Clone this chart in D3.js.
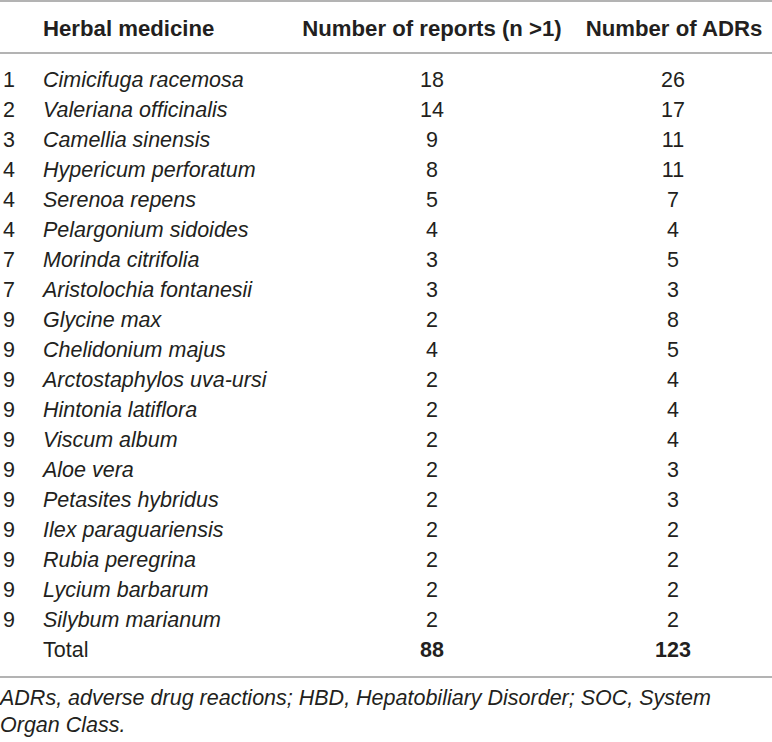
<!DOCTYPE html>
<html>
<head>
<meta charset="utf-8">
<script src="https://cdn.jsdelivr.net/npm/d3@7"></script>
<style>
  body { margin: 0; background: #fff; }
  svg { display: block; }
</style>
</head>
<body>
<div id="table"></div>
<script>
// table data
const headers = ["Herbal medicine", "Number of reports (n >1)", "Number of ADRs"];
const ranks = ["1", "2", "3", "4", "4", "4", "7", "7", "9", "9", "9", "9", "9", "9", "9", "9", "9", "9", "9"];
const herbs = ["Cimicifuga racemosa", "Valeriana officinalis", "Camellia sinensis", "Hypericum perforatum",
    "Serenoa repens", "Pelargonium sidoides", "Morinda citrifolia", "Aristolochia fontanesii", "Glycine max",
    "Chelidonium majus", "Arctostaphylos uva-ursi", "Hintonia latiflora", "Viscum album", "Aloe vera",
    "Petasites hybridus", "Ilex paraguariensis", "Rubia peregrina", "Lycium barbarum", "Silybum marianum"];
const reports = [18, 14, 9, 8, 5, 4, 3, 3, 2, 4, 2, 2, 2, 2, 2, 2, 2, 2, 2];
const adrs = [26, 17, 11, 11, 7, 4, 5, 3, 8, 5, 4, 4, 4, 3, 3, 2, 2, 2, 2];
const total_label = "Total";
const total_reports = 88;
const total_adrs = 123;
const footnote = ["ADRs, adverse drug reactions; HBD, Hepatobiliary Disorder; SOC, System", "Organ Class."];

function show_table() {
    const width = 772;
    const height = 742;
    const font = "'Liberation Sans', Arial, sans-serif";
    const text_color = "#231f20";
    const line_color = "#9a9a9a";
    const body_size = 21.5;
    const header_size = 22.2;

    // one row per herb plus the total row
    const row_ids = d3.range(herbs.length + 1);
    const yScale = d3.scalePoint()
        .domain(row_ids)
        .range([80, 650]);

    const x_rank = 3;
    const x_name = 43;
    const x_reports = 432;
    const x_adrs = 673;

    const svg = d3.create("svg")
        .attr("width", width)
        .attr("height", height)
        .style("font-family", font)
        .attr("fill", text_color);

    // horizontal rules
    svg.append("g")
        .attr("stroke", line_color)
        .attr("stroke-width", 1.5)
        .selectAll("line")
        .data([1, 53, 677])
        .join("line")
        .attr("x1", 0)
        .attr("x2", width)
        .attr("y1", d => d)
        .attr("y2", d => d);

    // header
    const header = svg.append("g")
        .attr("font-weight", "bold")
        .attr("font-size", header_size)
        .attr("dominant-baseline", "central");
    header.append("text").attr("x", x_name).attr("y", 28).text(headers[0]);
    header.append("text").attr("x", 432).attr("y", 28).attr("text-anchor", "middle").text(headers[1]);
    header.append("text").attr("x", 674).attr("y", 28).attr("text-anchor", "middle").text(headers[2]);

    // body rows
    const rows = svg.append("g")
        .attr("font-size", body_size)
        .selectAll("g")
        .data(herbs.map((h, i) => ({rank: ranks[i], herb: h, reports: reports[i], adrs: adrs[i], i: i})))
        .join("g")
        .attr("transform", d => `translate(0,${yScale(d.i)})`)
        .attr("dominant-baseline", "central");

    rows.append("text").attr("x", x_rank).text(d => d.rank);
    rows.append("text").attr("x", x_name).attr("font-style", "italic").text(d => d.herb);
    rows.append("text").attr("x", x_reports).attr("text-anchor", "middle").text(d => d.reports);
    rows.append("text").attr("x", x_adrs).attr("text-anchor", "middle").text(d => d.adrs);

    // total row
    const total = svg.append("g")
        .attr("font-size", body_size)
        .attr("transform", `translate(0,${yScale(herbs.length)})`)
        .attr("dominant-baseline", "central");
    total.append("text").attr("x", x_name).text(total_label);
    total.append("text").attr("x", x_reports).attr("text-anchor", "middle").attr("font-weight", "bold").text(total_reports);
    total.append("text").attr("x", x_adrs).attr("text-anchor", "middle").attr("font-weight", "bold").text(total_adrs);

    // footnote
    svg.append("g")
        .attr("font-size", body_size)
        .attr("font-style", "italic")
        .selectAll("text")
        .data(footnote)
        .join("text")
        .attr("x", 0)
        .attr("y", (d, i) => 698 + i * 27)
        .attr("dominant-baseline", "central")
        .text(d => d);

    d3.select("#table").node().append(svg.node());
}

show_table();
</script>
</body>
</html>
